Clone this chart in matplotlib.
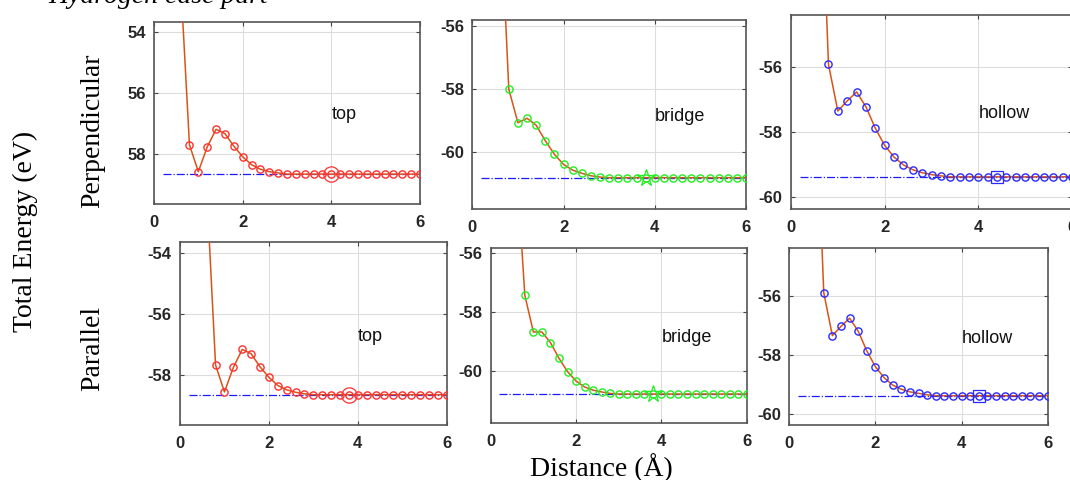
import numpy as np
import matplotlib.pyplot as plt

# distances (Angstrom); first entry only carries the fitted line above the frame
dist = [0.6, 0.8, 1.0, 1.2, 1.4, 1.6, 1.8, 2.0, 2.2, 2.4, 2.6, 2.8, 3.0,
        3.2, 3.4, 3.6, 3.8, 4.0, 4.2, 4.4, 4.6, 4.8, 5.0, 5.2, 5.4, 5.6, 5.8, 6.0]

top_perp = [-52.3, -57.70, -58.58, -57.77, -57.19, -57.33, -57.74, -58.09, -58.35,
            -58.50, -58.58, -58.62, -58.66, -58.66, -58.66, -58.66, -58.66, -58.66,
            -58.66, -58.66, -58.66, -58.66, -58.66, -58.66, -58.66, -58.66, -58.66, -58.66]
bridge_perp = [-51.7, -58.00, -59.06, -58.92, -59.14, -59.63, -60.06, -60.38, -60.56,
               -60.66, -60.74, -60.78, -60.80, -60.80, -60.80, -60.80, -60.80, -60.80,
               -60.80, -60.80, -60.80, -60.80, -60.80, -60.80, -60.80, -60.80, -60.80, -60.80]
hollow_perp = [-48.3, -55.91, -57.35, -57.04, -56.76, -57.22, -57.88, -58.41, -58.77,
               -59.01, -59.16, -59.25, -59.31, -59.35, -59.38, -59.38, -59.38, -59.38,
               -59.38, -59.38, -59.38, -59.38, -59.38, -59.38, -59.38, -59.38, -59.38, -59.38]
top_par = [-51.9, -57.67, -58.55, -57.75, -57.16, -57.30, -57.73, -58.07, -58.34,
           -58.48, -58.56, -58.61, -58.64, -58.64, -58.64, -58.64, -58.64, -58.64,
           -58.64, -58.64, -58.64, -58.64, -58.64, -58.64, -58.64, -58.64, -58.64, -58.64]
bridge_par = [-52.9, -57.44, -58.68, -58.68, -59.04, -59.57, -60.02, -60.34, -60.54,
              -60.65, -60.71, -60.76, -60.78, -60.78, -60.78, -60.78, -60.78, -60.78,
              -60.78, -60.78, -60.78, -60.78, -60.78, -60.78, -60.78, -60.78, -60.78, -60.78]
hollow_par = [-48.4, -55.89, -57.34, -57.03, -56.75, -57.19, -57.86, -58.39, -58.76,
              -59.01, -59.15, -59.24, -59.29, -59.34, -59.37, -59.37, -59.37, -59.37,
              -59.37, -59.37, -59.37, -59.37, -59.37, -59.37, -59.37, -59.37, -59.37, -59.37]

# equilibrium distance picked on each curve
eq_dist = [4.0, 3.8, 4.4, 3.8, 3.8, 4.4]
site_names = ["top", "bridge", "hollow", "top", "bridge", "hollow"]
site_text_y = [-56.7, -58.85, -57.44, -56.73, -58.86, -57.44]

x_ticks = [0, 2, 4, 6]
x_ticklabels = ["0", "2", "4", "6"]
y_ticks = [[-54, -56, -58], [-56, -58, -60], [-56, -58, -60],
           [-54, -56, -58], [-56, -58, -60], [-56, -58, -60]]
y_ticklabels = [["54", "56", "58"], ["-56", "-58", "-60"], ["-56", "-58", "-60"],
                ["-54", "-56", "-58"], ["-56", "-58", "-60"], ["-56", "-58", "-60"]]
y_limits = [(-59.64, -53.67), (-61.80, -55.81), (-60.38, -54.39),
            (-59.63, -53.64), (-61.77, -55.85), (-60.36, -54.39)]

curves = [top_perp, bridge_perp, hollow_perp, top_par, bridge_par, hollow_par]
marker_col = ["#ff3030", "#20ee20", "#2a2aff", "#ff3030", "#20ee20", "#2a2aff"]
big_marker = ["o", "*", "s", "o", "*", "s"]

W, H = 1070, 480
# panel frames in pixels: left, top, right, bottom
frames = [(154, 22, 420, 204), (472.3, 20, 746, 209.3), (791, 15, 1072, 209.3),
          (180, 241.7, 446.7, 425), (490.7, 248.3, 746.7, 423.3), (789.3, 248.3, 1047.7, 425)]

fig = plt.figure(figsize=(W / 100, H / 100), dpi=100)
line_col = "#d95319"

for i in range(6):
    l, t, r, b = frames[i]
    ax = fig.add_axes([l / W, 1 - b / H, (r - l) / W, (b - t) / H])
    y = curves[i]
    flat = y[-1]
    ax.plot([0.2, 6.0], [flat, flat], color="#1a1aff", lw=0.9, ls="-.", zorder=2)
    ax.plot(dist, y, color=line_col, lw=1.1, zorder=3)
    ax.plot(dist[1:], y[1:], ls="none", marker="o", ms=5.2, mfc="none",
            mec=marker_col[i], mew=1.0, zorder=4)
    k = dist.index(eq_dist[i])
    bsize = {"o": 11, "*": 13, "s": 9}[big_marker[i]]
    ax.plot(dist[k], y[k], ls="none", marker=big_marker[i], ms=bsize, mfc="none",
            mec=marker_col[i], mew=0.9, zorder=5)
    ax.text(4.0, site_text_y[i], site_names[i], fontsize=13, family="Liberation Sans",
            ha="left", va="center", color="#111111")
    ax.set_xlim(0, 6)
    ax.set_ylim(*y_limits[i])
    ax.set_xticks(x_ticks)
    ax.set_xticklabels(x_ticklabels)
    ax.set_yticks(y_ticks[i])
    ax.set_yticklabels(y_ticklabels[i])
    ax.grid(True, color="#dddddd", lw=0.8)
    ax.set_axisbelow(True)
    ax.tick_params(direction="in", length=3, width=0.8, color="#444444",
                   top=True, right=True, labelsize=12, pad=6)
    ax.tick_params(axis="x", pad=8)
    for lab in ax.get_xticklabels() + ax.get_yticklabels():
        lab.set_fontweight("bold")
        lab.set_family("Liberation Sans")
        lab.set_color("#262626")
    for s in ax.spines.values():
        s.set_color("#555555")
        s.set_linewidth(1.2)

serif = "Liberation Serif"
fig.text(25 / W, 1 - 231 / H, "Total Energy (eV)", rotation=90, ha="center", va="center",
         fontsize=20, family=serif)
fig.text(93 / W, 1 - 131 / H, "Perpendicular", rotation=90, ha="center", va="center",
         fontsize=20, family=serif)
fig.text(93 / W, 1 - 348 / H, "Parallel", rotation=90, ha="center", va="center",
         fontsize=20, family=serif)
fig.text(601 / W, 1 - 476 / H, "Distance (Å)", ha="center", va="baseline",
         fontsize=20, family=serif)
# caption line cut off by the top edge of the picture
fig.text(48 / W, 1 - 3 / H, "Hydrogen case part", ha="left", va="baseline",
         fontsize=20, family=serif, style="italic")

fig.savefig("out.png", dpi=100)
